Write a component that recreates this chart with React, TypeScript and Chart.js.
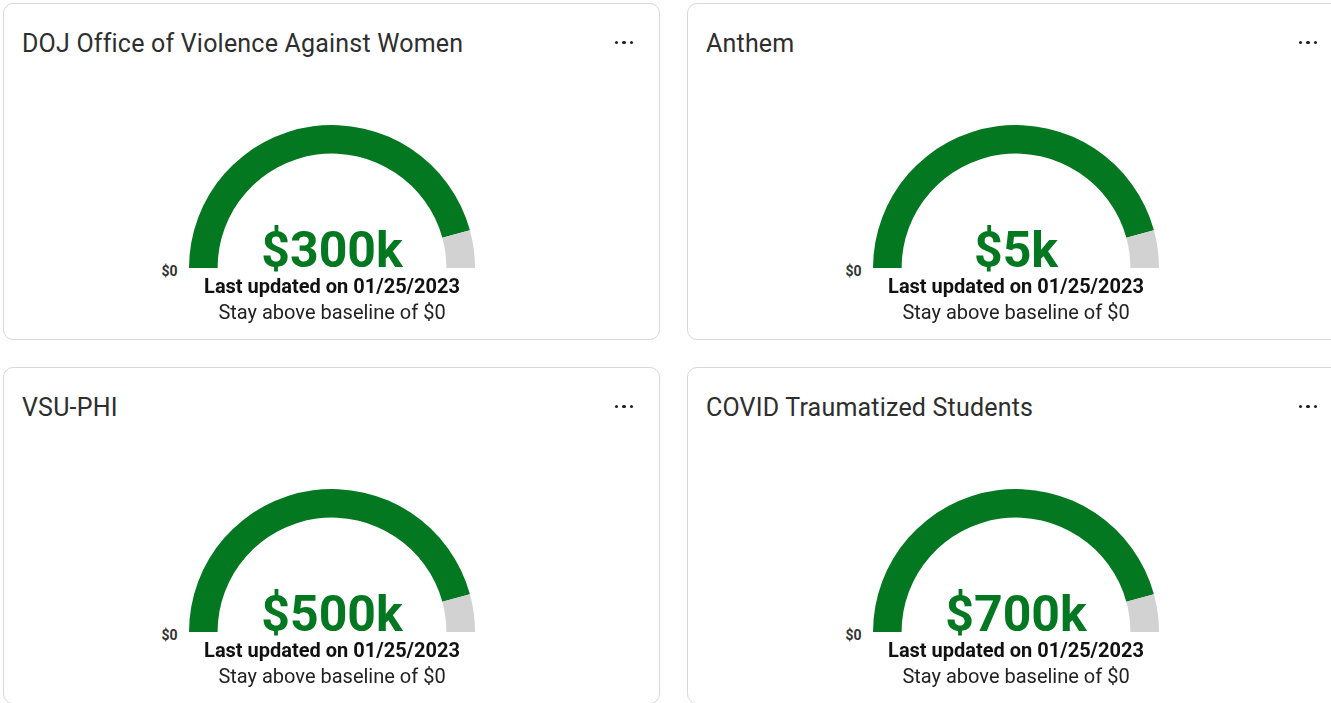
import React, { useEffect, useRef } from "react";
import { Chart, registerables } from "chart.js";

Chart.register(...registerables);

// ---- data ----
const cardTitles = [
  "DOJ Office of Violence Against Women",
  "Anthem",
  "VSU-PHI",
  "COVID Traumatized Students",
];
const valueLabels = ["$300k", "$5k", "$500k", "$700k"];
const gaugeFilled = [91.5, 91.5, 91.5, 91.5];
const gaugeRemaining = [8.5, 8.5, 8.5, 8.5];
const minLabel = "$0";
const updatedLabel = "Last updated on 01/25/2023";
const baselineLabel = "Stay above baseline of $0";

const GREEN = "#047821";
const GRAY = "#d2d2d2";
const FONT = "Roboto, 'Noto Sans', sans-serif";

// baseline offset for line-height:1 with Roboto metrics
const BASE = 0.842;

function Txt(props: {
  text: string;
  size: number;
  baseline: number;
  left?: number;
  right?: number;
  center?: number;
  weight?: number;
  color?: string;
  spacing?: number;
}) {
  const { text, size, baseline, left, right, center, weight = 400, color = "#222", spacing = 0 } = props;
  const style: React.CSSProperties = {
    position: "absolute",
    top: baseline - size * BASE,
    fontSize: size,
    lineHeight: `${size}px`,
    fontFamily: FONT,
    fontWeight: weight,
    color,
    whiteSpace: "nowrap",
    letterSpacing: spacing,
  };
  if (center !== undefined) {
    style.left = center - 300;
    style.width = 600;
    style.textAlign = "center";
  } else if (right !== undefined) {
    style.left = right - 100;
    style.width = 100;
    style.textAlign = "right";
  } else {
    style.left = left;
  }
  return <div style={style}>{text}</div>;
}

function Gauge({ index }: { index: number }) {
  const ref = useRef<HTMLCanvasElement | null>(null);
  useEffect(() => {
    if (!ref.current) return;
    const chart = new Chart(ref.current, {
      type: "doughnut",
      data: {
        labels: ["value", "remaining"],
        datasets: [
          {
            data: [gaugeFilled[index], gaugeRemaining[index]],
            backgroundColor: [GREEN, GRAY],
            borderWidth: 0,
          },
        ],
      },
      options: {
        responsive: false,
        maintainAspectRatio: false,
        animation: false,
        rotation: -90,
        circumference: 180,
        cutout: "80%",
        layout: { padding: 0 },
        plugins: {
          legend: { display: false },
          tooltip: { enabled: false },
        },
        events: [],
      },
    });
    return () => chart.destroy();
  }, [index]);
  const R = 143;
  const cx = 328;
  const cy = 264;
  return (
    <canvas
      ref={ref}
      width={R * 2}
      height={R}
      style={{ position: "absolute", left: cx - R, top: cy - R, width: R * 2, height: R }}
    />
  );
}

function Card({ index, left, top }: { index: number; left: number; top: number }) {
  return (
    <div
      style={{
        position: "absolute",
        left,
        top,
        width: 657,
        height: 337,
        boxSizing: "border-box",
        border: "1px solid #d8d8d8",
        borderRadius: 10,
        background: "#fff",
        overflow: "hidden",
      }}
    >
      <Txt text={cardTitles[index]} size={25} baseline={47.7} left={18} color="#2e2e2e" spacing={0.2} />
      {[612.7, 620.2, 627.7].map((x, i) => (
        <div
          key={i}
          style={{
            position: "absolute",
            left: x - 1.8,
            top: 38.3 - 1.8,
            width: 3.6,
            height: 3.6,
            borderRadius: "50%",
            background: "#222",
          }}
        />
      ))}
      <Gauge index={index} />
      <Txt text={minLabel} size={14} baseline={271.5} right={173.5} weight={700} color="#333" />
      <Txt text={valueLabels[index]} size={50} baseline={263.2} center={328} weight={700} color={GREEN} />
      <Txt text={updatedLabel} size={20} baseline={289.3} center={328} weight={700} color="#111" />
      <Txt text={baselineLabel} size={20} baseline={315.3} center={328} color="#222" />
    </div>
  );
}

export default function App() {
  const positions = [
    [3, 3],
    [687, 3],
    [3, 367],
    [687, 367],
  ];
  return (
    <div
      style={{
        position: "fixed",
        left: 0,
        top: 0,
        width: 1331,
        height: 703,
        overflow: "hidden",
        background: "#fff",
      }}
    >
      {positions.map(([l, t], i) => (
        <Card key={i} index={i} left={l} top={t} />
      ))}
    </div>
  );
}
